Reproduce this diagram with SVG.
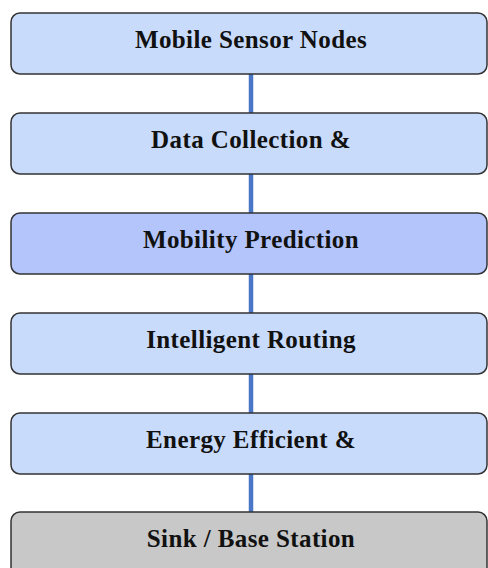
<svg xmlns="http://www.w3.org/2000/svg" width="488" height="568" viewBox="0 0 488 568">
<style>
.box{stroke:#333;stroke-width:1.5}
.n{fill:#c9dbfb}
.h{fill:#b3c5fb}
.g{fill:#c8c8c8}
.t{font-family:"Liberation Serif",serif;font-weight:bold;font-size:25px;letter-spacing:0.4px;fill:#111;text-anchor:middle}
.c{stroke:#4a76c8;stroke-width:4.5;fill:none}
</style>
<rect width="488" height="568" fill="#fff"/>
<g id="connectors">
<line class="c" x1="251" y1="74" x2="251" y2="113"/>
<line class="c" x1="251" y1="174" x2="251" y2="213"/>
<line class="c" x1="251" y1="274" x2="251" y2="313"/>
<line class="c" x1="251" y1="374" x2="251" y2="413"/>
<line class="c" x1="251" y1="474" x2="251" y2="512"/>
</g>
<g id="mobile-sensor-nodes"><rect class="box n" x="11" y="13" width="476" height="61" rx="9"/><text class="t" x="251" y="48">Mobile Sensor Nodes</text></g>
<g id="data-collection"><rect class="box n" x="11" y="113" width="476" height="61" rx="9"/><text class="t" x="251" y="148">Data Collection &amp;</text></g>
<g id="mobility-prediction"><rect class="box h" x="11" y="213" width="476" height="61" rx="9"/><text class="t" x="251" y="248">Mobility Prediction</text></g>
<g id="intelligent-routing"><rect class="box n" x="11" y="313" width="476" height="61" rx="9"/><text class="t" x="251" y="348">Intelligent Routing</text></g>
<g id="energy-efficient"><rect class="box n" x="11" y="413" width="476" height="61" rx="9"/><text class="t" x="251" y="448">Energy Efficient &amp;</text></g>
<g id="sink-base-station"><rect class="box g" x="11" y="512" width="476" height="66" rx="9"/><text class="t" x="251" y="547">Sink / Base Station</text></g>
</svg>
